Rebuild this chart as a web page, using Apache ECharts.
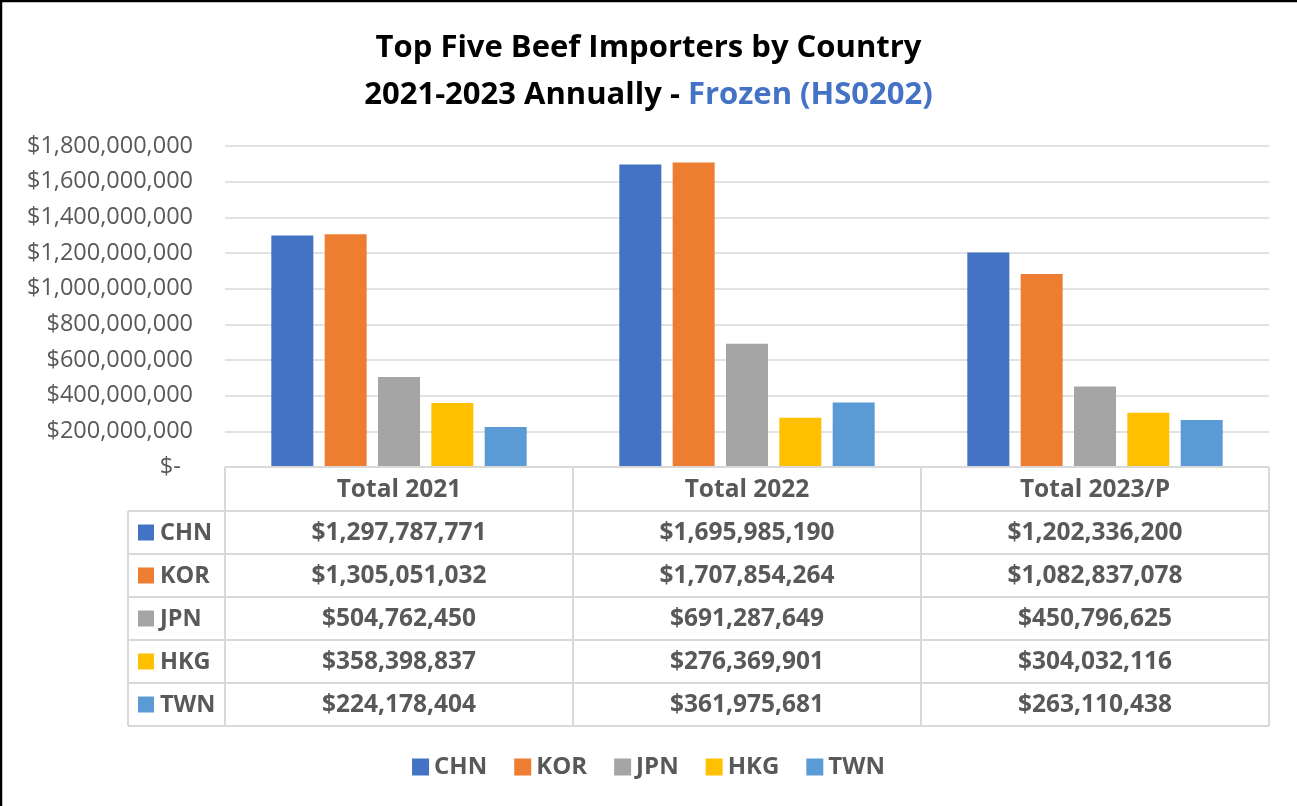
<!DOCTYPE html>
<html>
<head>
<meta charset="utf-8">
<script src="https://cdn.jsdelivr.net/npm/echarts@6/dist/echarts.min.js"></script>
<style>
  html, body { margin: 0; padding: 0; background: #fff; }
  #chart { width: 1297px; height: 806px; }
</style>
</head>
<body>
<div id="chart"></div>
<script>
// Yearly totals of frozen beef imports (HS0202), US dollars
const categories = ['Total 2021', 'Total 2022', 'Total 2023/P'];
const countries = ['CHN', 'KOR', 'JPN', 'HKG', 'TWN'];
const chnValues = [1297787771, 1695985190, 1202336200];
const korValues = [1305051032, 1707854264, 1082837078];
const jpnValues = [504762450, 691287649, 450796625];
const hkgValues = [358398837, 276369901, 304032116];
const twnValues = [224178404, 361975681, 263110438];
const seriesColors = ['#4472C4', '#ED7D31', '#A5A5A5', '#FFC000', '#5B9BD5'];
const yMin = 0, yMax = 1800000000, yStep = 200000000;

const seriesValues = [chnValues, korValues, jpnValues, hkgValues, twnValues];

const FONT = '"Open Sans", "Noto Sans", sans-serif';
const TEXT = '#595959';
const RULE = '#D9D9D9';

function withCommas(v) {
  return String(Math.round(v)).replace(/\B(?=(\d{3})+(?!\d))/g, ',');
}
function dollars(v) {
  return v === 0 ? '$-  ' : '$' + withCommas(v);
}

// plot area
const W = 1297, H = 806;
const gridLeft = 225, gridRight = 28, gridTop = 146, gridBottomY = 467;
const plotRight = W - gridRight;
// data table under the plot
const labelColLeft = 128;
const headerH = 44, rowH = 43;

const chart = echarts.init(document.getElementById('chart'), null, { renderer: 'canvas' });

function buildTable() {
  const g = [];
  const colW = (plotRight - gridLeft) / categories.length;
  const tableBottom = gridBottomY + headerH + rowH * countries.length;
  const line = (x1, y1, x2, y2) => ({
    type: 'line', silent: true, z: 5,
    shape: { x1, y1, x2, y2 },
    style: { stroke: RULE, lineWidth: 2 }
  });
  // header row border
  g.push(line(gridLeft, gridBottomY, plotRight, gridBottomY));
  // row borders
  for (let r = 0; r <= countries.length; r++) {
    const y = gridBottomY + headerH + rowH * r;
    g.push(line(labelColLeft, y, plotRight, y));
  }
  // column borders
  g.push(line(labelColLeft, gridBottomY + headerH, labelColLeft, tableBottom));
  for (let c = 0; c <= categories.length; c++) {
    const x = gridLeft + colW * c;
    g.push(line(x, gridBottomY, x, tableBottom));
  }
  // header texts
  categories.forEach((cat, c) => {
    g.push({
      type: 'text', silent: true, z: 6,
      x: gridLeft + colW * (c + 0.5), y: gridBottomY + headerH / 2 + 1,
      style: { text: cat, fill: TEXT, font: 'bold 24.5px ' + FONT, align: 'center', verticalAlign: 'middle' }
    });
  });
  // body rows
  countries.forEach((name, r) => {
    const cy = gridBottomY + headerH + rowH * (r + 0.5);
    g.push({
      type: 'rect', silent: true, z: 6,
      shape: { x: labelColLeft + 10, y: cy - 8, width: 16, height: 16 },
      style: { fill: seriesColors[r] }
    });
    g.push({
      type: 'text', silent: true, z: 6,
      x: labelColLeft + 32, y: cy + 1,
      style: { text: name, fill: TEXT, font: 'bold 23.5px ' + FONT, align: 'left', verticalAlign: 'middle' }
    });
    seriesValues[r].forEach((v, c) => {
      g.push({
        type: 'text', silent: true, z: 6,
        x: gridLeft + colW * (c + 0.5), y: cy + 1,
        style: { text: dollars(v), fill: TEXT, font: 'bold 24.5px ' + FONT, align: 'center', verticalAlign: 'middle' }
      });
    });
  });
  // outer frame of the chart
  g.push({
    type: 'rect', silent: true, z: 10,
    shape: { x: 1, y: 1, width: W + 20, height: H + 20 },
    style: { fill: 'none', stroke: '#000', lineWidth: 2.5 }
  });
  return g;
}

const option = {
  backgroundColor: '#fff',
  animation: false,
  title: {
    left: 'center',
    top: 20,
    text: '{a|Top Five Beef Importers by Country}\n{a|2021-2023 Annually - }{b|Frozen (HS0202)}',
    textStyle: {
      rich: {
        a: { fontFamily: FONT, fontWeight: 'bold', fontSize: 31, color: '#000', lineHeight: 47 },
        b: { fontFamily: FONT, fontWeight: 'bold', fontSize: 31, color: '#4472C4', lineHeight: 47 }
      }
    }
  },
  legend: {
    data: countries,
    top: 750,
    left: 'center',
    icon: 'rect',
    itemWidth: 17,
    itemHeight: 17,
    itemGap: 27,
    textStyle: { fontFamily: FONT, fontWeight: 'bold', fontSize: 24, color: TEXT }
  },
  grid: {
    left: gridLeft,
    right: gridRight,
    top: gridTop,
    bottom: H - gridBottomY,
    containLabel: false
  },
  xAxis: {
    type: 'category',
    data: categories,
    axisLine: { show: false },
    axisTick: { show: false },
    axisLabel: { show: false },
    splitLine: { show: false }
  },
  yAxis: {
    type: 'value',
    min: yMin,
    max: yMax,
    interval: yStep,
    axisLine: { show: false },
    axisTick: { show: false },
    axisLabel: {
      formatter: dollars,
      margin: 32,
      fontFamily: FONT,
      fontSize: 23.5,
      color: TEXT
    },
    splitLine: { lineStyle: { color: RULE, width: 1.5 } }
  },
  series: countries.map((name, i) => ({
    name,
    type: 'bar',
    data: seriesValues[i],
    barWidth: 42,
    barGap: '27%',
    itemStyle: { color: seriesColors[i] }
  })),
  graphic: buildTable()
};

chart.setOption(option);
</script>
</body>
</html>
